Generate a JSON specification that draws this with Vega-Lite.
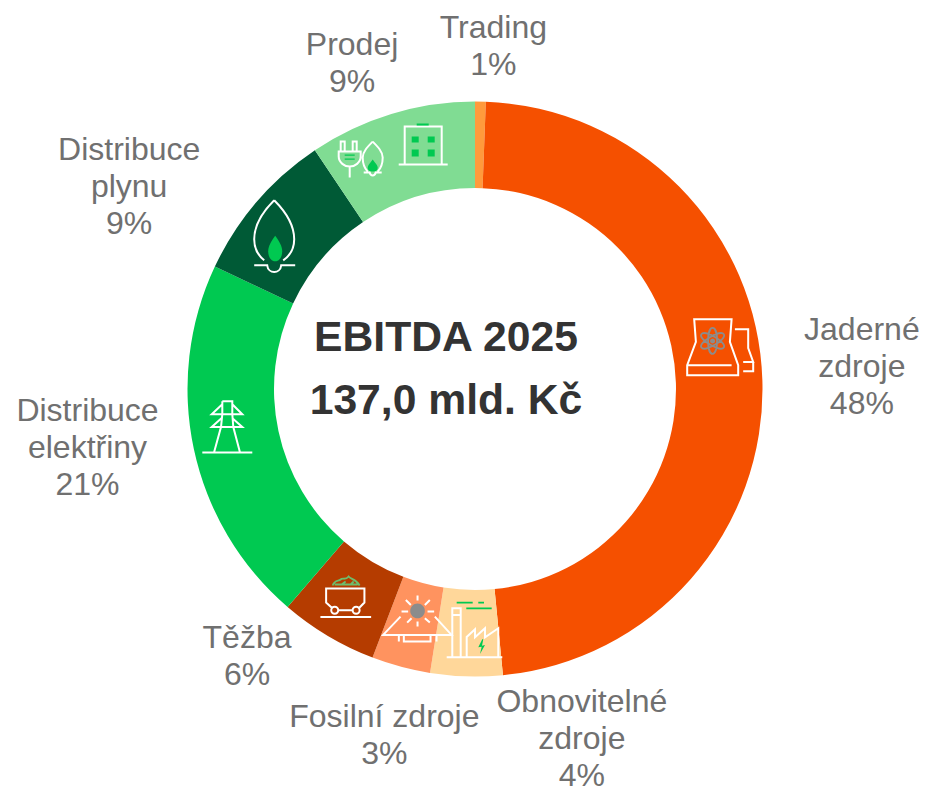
{
"$schema":"https://vega.github.io/schema/vega-lite/v6.json",
"width":902,"height":778,"autosize":{"type":"none"},"padding":{"left":24,"top":0,"right":0,"bottom":8},
"background":"white","config":{"view":{"stroke":null}},
"datasets":{"segments":[
{"label":"Trading","value":0.6,"ord":1,"text":"Trading|1%"},
{"label":"Jaderné zdroje","value":47.85,"ord":2,"text":"Jaderné|zdroje|48%"},
{"label":"Obnovitelné zdroje","value":4.05,"ord":3,"text":"Obnovitelné|zdroje|4%"},
{"label":"Fosilní zdroje","value":3.3,"ord":4,"text":"Fosilní zdroje|3%"},
{"label":"Těžba","value":5.5,"ord":5,"text":"Těžba|6%"},
{"label":"Distribuce elektřiny","value":20.7,"ord":6,"text":"Distribuce|elektřiny|21%"},
{"label":"Distribuce plynu","value":8.6,"ord":7,"text":"Distribuce|plynu|9%"},
{"label":"Prodej","value":9.4,"ord":8,"text":"Prodej|9%"}
]},
"data":{"name":"segments"},
"layer":[
{"mark":{"type":"arc","innerRadius":201,"outerRadius":287.5},
 "encoding":{"theta":{"field":"value","type":"quantitative","stack":true},
  "order":{"field":"ord","type":"ordinal"},
  "color":{"field":"label","type":"nominal","legend":null,"sort":null,
   "scale":{"domain":["Trading","Jaderné zdroje","Obnovitelné zdroje","Fosilní zdroje","Těžba","Distribuce elektřiny","Distribuce plynu","Prodej"],
   "range":["#FF9A3C","#F55000","#FFD79A","#FF935F","#B53C00","#00C951","#005A36","#80DC93"]}}}},
{"mark":{"type":"text","radius":340,"font":"Liberation Sans","fontSize":32,"lineBreak":"|","lineHeight":37,"fill":"#707070","align":"center","baseline":"middle",
  "dx":{"expr":"{'Trading':12,'Jaderné zdroje':47,'Obnovitelné zdroje':117,'Fosilní zdroje':-3,'Těžba':-54,'Distribuce elektřiny':-55,'Distribuce plynu':-88,'Prodej':-24}[datum.label]"},
  "dy":{"expr":"{'Trading':-21.3,'Jaderné zdroje':-48.6,'Obnovitelné zdroje':-26.6,'Fosilní zdroje':-0.8,'Těžba':-43.3,'Distribuce elektřiny':-49,'Distribuce plynu':-17.6,'Prodej':-18.3}[datum.label]"}},
 "encoding":{"theta":{"field":"value","type":"quantitative","stack":true},
  "order":{"field":"ord","type":"ordinal"},
  "detail":{"field":"label","type":"nominal"},
  "text":{"field":"text","type":"nominal"}}},
{"data":{"values":[{"title":"EBITDA 2025|137,0 mld. Kč"}]},
 "mark":{"type":"text","font":"Liberation Sans","fontSize":42.67,"fontWeight":"bold","lineBreak":"|","lineHeight":63,"fill":"#333333","align":"center","baseline":"middle","dx":-29,"dy":-51},
 "encoding":{"text":{"field":"title","type":"nominal"}}},
{"transform":[
  {"stack":"value","sort":[{"field":"ord"}],"as":["v0","v1"]},
  {"calculate":"245*sin((datum.v0+datum.v1)/100*PI)","as":"ix"},
  {"calculate":"245*cos((datum.v0+datum.v1)/100*PI)","as":"iy"},
  {"filter":"datum.label!='Trading'"}],
 "encoding":{
  "x":{"field":"ix","type":"quantitative","axis":null,"scale":{"domain":[-451,451],"nice":false,"zero":false}},
  "y":{"field":"iy","type":"quantitative","axis":null,"scale":{"domain":[-389,389],"nice":false,"zero":false}}},
 "layer":[
  {"mark":{"type":"point","filled":false,"opacity":1,"size":4,"stroke":"#FFFFFF","strokeWidth":2,"fill":null},
   "encoding":{"shape":{"field":"label","type":"nominal","legend":null,"scale":{
    "domain":["Jaderné zdroje","Obnovitelné zdroje","Fosilní zdroje","Těžba","Distribuce elektřiny","Distribuce plynu","Prodej"],
    "range":[
     "M-25.7 -62.5H11.7L10 -39.8L18.3 -16.5V-6.5H-32.7V-16.5L-24 -39.8ZM-32.7 -16.5H11.7M15 -52.5H28.3V-33.5L33.3 -19.8H23.3M33.3 -19.8V-10.5H23.3",
     "M-15.4 23V-25.6H-7V23M-15.4 -18.9H-7M-1 23V3L7.3 -4.6V3.4L17.3 -5.6V3.4L30.6 -5.6V23M-21 23.4H34.6",
     "M5.7 -30.1V-25.1M5.7 -4.1V0.9M-10.3 -14.1H-3.7M15.7 -14.1H22.3M-6 -25.8L-1 -20.8M18 -25.8L13 -20.8M-4.7 -3.1L-0.3 -7.5M18 -3.1L13 -7.5M-11.3 -9.1L-28.7 9.2H39.7L23 -9.1M-8 9.2V15.9H18.7V9.2M-13 9.2V15.9M24.7 9.2V15.9",
     "M-17 9L-23.5 3V-10.9H14.8V3L9 9M-18.4 10.8a3.5 3.5 0 1 0 7 0a3.5 3.5 0 1 0 -7 0M3 10.8a3.5 3.5 0 1 0 7 0a3.5 3.5 0 1 0 -7 0M-11 10.8H3M-29.2 17.5H21.5",
     "M-13.1 -38.9H-3.1V-25.9L-2.1 -13.2L4.6 12.4M-13.1 -38.9V-25.9L-14.4 -13.2L-21.4 12.4M-13.1 -36L-23.7 -25.9H6.9L-3.1 -36M-14 -22L-23.7 -13.2H6.9L-3 -22M-33.1 12.4H16.9",
     "M-15 -29C-22 -22 -35 -8 -35 10C-35 20 -30 27 -25 31M-15 -29C-8 -22 5 -8 5 10C5 20 0 27 -6 31M-35 36H-22C-21 45 -9 45 -8 36H6",
     "M1 10V-28H38V10M-5 10H44M-63 -3V-13H-59V-3M-51 -3V-13H-47V-3M-65 -3H-43V2C-43 8 -49 12 -54 12C-59 12 -65 8 -65 2ZM-54 12V23M-31 -13C-36 -8 -41 -3 -41 3C-41 9 -39 14 -36 17M-31 -13C-26 -8 -21 -3 -21 3C-21 9 -23 14 -26 17M-40 18H-34C-33 22 -29 22 -28 18H-22"
    ]}}}},
  {"transform":[{"filter":"indexof(['Jaderné zdroje','Obnovitelné zdroje','Fosilní zdroje','Distribuce plynu','Prodej'],datum.label)>=0"}],
   "mark":{"type":"point","filled":true,"opacity":1,"size":4,"strokeWidth":0},
   "encoding":{"shape":{"field":"label","type":"nominal","legend":null,"scale":{
    "domain":["Jaderné zdroje","Obnovitelné zdroje","Fosilní zdroje","Distribuce plynu","Prodej"],
    "range":[
     "M-9.8 -40.8a2.5 2.5 0 1 0 5 0a2.5 2.5 0 1 0 -5 0Z",
     "M14.6 5.4L10.6 13.4L14 12.8L12.3 20.1L17.3 11.1L14.3 11.8L15.6 5.4Z",
     "M-1.6 -14.8a7.3 7.3 0 1 0 14.6 0a7.3 7.3 0 1 0 -14.6 0Z",
     "M-14 6.5C-18 12 -21 17 -21 22C-21 28 -18 32 -14 32C-10 32 -7 28 -7 22C-7 17 -10 12 -14 6.5Z",
     "M8 -18H15V-12H8ZM24 -18H31V-12H24ZM8 -5H15V2H8ZM24 -5H31V2H24ZM13 -31H25V-29H13ZM-59 0H-49V1.2H-59ZM-59 4H-49V5.2H-59ZM-31 5C-34 9 -36 11 -36 13C-36 16 -34 17 -31 17C-28 17 -26 16 -26 13C-26 11 -28 9 -31 5Z"
    ]}},
    "fill":{"field":"label","type":"nominal","legend":null,"scale":{
     "domain":["Jaderné zdroje","Obnovitelné zdroje","Fosilní zdroje","Distribuce plynu","Prodej"],
     "range":["#8C8C8C","#00C951","#8C8C8C","#00C951","#00C951"]}}}},
  {"transform":[{"filter":"indexof(['Jaderné zdroje','Obnovitelné zdroje','Těžba'],datum.label)>=0"}],
   "mark":{"type":"point","filled":false,"opacity":1,"size":4,"strokeWidth":1.8,"fill":null},
   "encoding":{"shape":{"field":"label","type":"nominal","legend":null,"scale":{
    "domain":["Jaderné zdroje","Obnovitelné zdroje","Těžba"],
    "range":[
     "M-7.3 -27.8C-1.3 -27.8 -1.3 -53.8 -7.3 -53.8C-13.3 -53.8 -13.3 -27.8 -7.3 -27.8ZM4 -47.3C7 -42.1 -15.6 -29.1 -18.6 -34.3C-21.6 -39.5 1 -52.5 4 -47.3ZM4 -34.3C1 -29.1 -21.6 -42.1 -18.6 -47.3C-15.6 -52.5 7 -39.5 4 -34.3Z",
     "M-11 -31.2H5M10.6 -31.2H16.3M-1.4 -25.6H24",
     "M-17 -14C-15 -20 -11 -18 -9 -20C-7 -22 -4 -19 -1 -23C1 -20 6 -21 10 -14M-15 -15H8M-8 -15L-4 -18M1 -15L4 -18"
    ]}},
    "stroke":{"field":"label","type":"nominal","legend":null,"scale":{
     "domain":["Jaderné zdroje","Obnovitelné zdroje","Těžba"],
     "range":["#8C8C8C","#00C951","#6DBE6D"]}}}}
 ],
 "resolve":{"scale":{"shape":"independent","fill":"independent","stroke":"independent"}}}
],
"resolve":{"scale":{"color":"independent"}}
}
